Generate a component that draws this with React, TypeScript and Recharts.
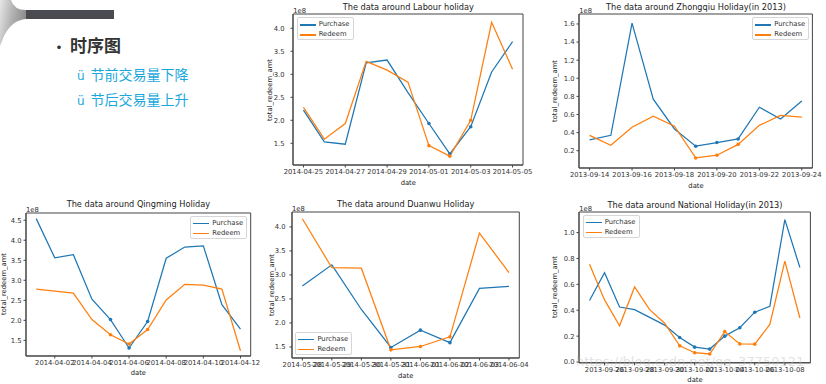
import React from 'react';
import { LineChart, Line, XAxis, YAxis, Legend, ReferenceArea } from 'recharts';

const FONT = '"DejaVu Sans", Verdana, sans-serif';
const CJK = '"Noto Sans CJK SC", sans-serif';
const BLUE = '#1f77b4';
const ORANGE = '#ff7f0e';

// ---- Labour holiday (2014) ----
const labourDates = ['2014-04-25', '2014-04-26', '2014-04-27', '2014-04-28', '2014-04-29', '2014-04-30', '2014-05-01', '2014-05-02', '2014-05-03', '2014-05-04', '2014-05-05'];
const labourPurchase = [2.22, 1.53, 1.48, 3.25, 3.31, 2.6, 1.93, 1.27, 1.86, 3.05, 3.71];
const labourRedeem = [2.28, 1.59, 1.93, 3.28, 3.09, 2.83, 1.45, 1.22, 2.0, 4.13, 3.11];
const labourMarks = [6, 7, 8];
const labourYTicks = [1.5, 2.0, 2.5, 3.0, 3.5, 4.0];
const labourXTicks = [0, 2, 4, 6, 8, 10];

// ---- Zhongqiu holiday (2013) ----
const zqDates = ['2013-09-14', '2013-09-15', '2013-09-16', '2013-09-17', '2013-09-18', '2013-09-19', '2013-09-20', '2013-09-21', '2013-09-22', '2013-09-23', '2013-09-24'];
const zqPurchase = [0.32, 0.37, 1.61, 0.77, 0.44, 0.25, 0.29, 0.33, 0.68, 0.55, 0.75];
const zqRedeem = [0.37, 0.26, 0.46, 0.58, 0.47, 0.12, 0.15, 0.27, 0.48, 0.59, 0.57];
const zqMarks = [5, 6, 7];
const zqYTicks = [0.2, 0.4, 0.6, 0.8, 1.0, 1.2, 1.4, 1.6];
const zqXTicks = [0, 2, 4, 6, 8, 10];

// ---- Qingming holiday (2014) ----
const qmDates = ['2014-04-01', '2014-04-02', '2014-04-03', '2014-04-04', '2014-04-05', '2014-04-06', '2014-04-07', '2014-04-08', '2014-04-09', '2014-04-10', '2014-04-11', '2014-04-12'];
const qmPurchase = [4.54, 3.56, 3.64, 2.53, 2.02, 1.31, 1.97, 3.55, 3.83, 3.86, 2.39, 1.78];
const qmRedeem = [2.78, 2.73, 2.68, 2.02, 1.64, 1.41, 1.77, 2.51, 2.9, 2.88, 2.78, 1.24];
const qmMarks = [4, 5, 6];
const qmYTicks = [1.5, 2.0, 2.5, 3.0, 3.5, 4.0, 4.5];
const qmXTicks = [1, 3, 5, 7, 9, 11];

// ---- Duanwu holiday (2014) ----
const dwDates = ['2014-05-28', '2014-05-29', '2014-05-30', '2014-05-31', '2014-06-01', '2014-06-02', '2014-06-03', '2014-06-04'];
const dwPurchase = [2.77, 3.21, 2.28, 1.49, 1.85, 1.59, 2.72, 2.76];
const dwRedeem = [4.17, 3.15, 3.14, 1.44, 1.51, 1.71, 3.87, 3.05];
const dwMarks = [3, 4, 5];
const dwYTicks = [1.5, 2.0, 2.5, 3.0, 3.5, 4.0];
const dwXTicks = [0, 1, 2, 3, 4, 5, 6, 7];

// ---- National holiday (2013) ----
const natDates = ['2013-09-25', '2013-09-26', '2013-09-27', '2013-09-28', '2013-09-29', '2013-09-30', '2013-10-01', '2013-10-02', '2013-10-03', '2013-10-04', '2013-10-05', '2013-10-06', '2013-10-07', '2013-10-08', '2013-10-09'];
const natPurchase = [0.475, 0.69, 0.425, 0.405, 0.345, 0.285, 0.19, 0.115, 0.1, 0.2, 0.265, 0.385, 0.43, 1.1, 0.73];
const natRedeem = [0.755, 0.48, 0.28, 0.58, 0.405, 0.3, 0.125, 0.072, 0.062, 0.235, 0.14, 0.138, 0.29, 0.78, 0.34];
const natMarks = [6, 7, 8, 9, 10, 11];
const natYTicks = [0.0, 0.2, 0.4, 0.6, 0.8, 1.0];
const natXTicks = [1, 3, 5, 7, 9, 11, 13];

const YW = 40;
const TOP = 20;
const XH = 30;
const MR = 30;
const LEG_W = 57;
const LEG_H = 23;
const LEG_PAD = 3.4;

type PanelProps = {
  title: string;
  dates: string[];
  purchase: number[];
  redeem: number[];
  marks: number[];
  yTicks: number[];
  xTicks: number[];
  L: number; T: number; R: number; B: number;
  yDomain: [number, number];
  xPad: number;
  legendPos: 'ul' | 'ur' | 'll';
  titleY: number;
  yTickGap: number;
  yLabelX: number;
};

const makeDot = (marks: number[], color: string) => (props: any) => {
  const { cx, cy, index } = props;
  if (!marks.includes(index) || cx == null || cy == null) return <g key={`n${index}`} />;
  return <circle key={`d${index}`} cx={cx} cy={cy} r={1.8} fill={color} stroke="none" />;
};

const LegendContent = (props: any) => {
  const payload = props.payload || [];
  return (
    <div
      style={{
        width: LEG_W,
        height: LEG_H,
        boxSizing: 'border-box',
        border: '1px solid #d6d6d6',
        borderRadius: 2,
        background: 'rgba(255,255,255,0.85)',
        position: 'relative',
        fontFamily: FONT,
        fontSize: 6.8,
        color: '#333',
      }}
    >
      {payload.map((p: any, i: number) => (
        <div key={i} style={{ position: 'absolute', left: 0, top: 2 + i * 10, height: 9, width: LEG_W, lineHeight: '9px' }}>
          <div style={{ position: 'absolute', left: 2, top: 4, width: 16, height: 1.3, background: p.color }} />
          <span style={{ position: 'absolute', left: 21, top: 0, whiteSpace: 'nowrap' }}>{p.value}</span>
        </div>
      ))}
    </div>
  );
};

const Panel = (p: PanelProps) => {
  const rows = p.dates.map((d, i) => ({ i, date: d, purchase: p.purchase[i], redeem: p.redeem[i] }));
  const pw = p.R - p.L;
  const ph = p.B - p.T;
  const n = p.dates.length;
  const xDomain: [number, number] = [-p.xPad, n - 1 + p.xPad];
  const tickStyle = { fontSize: 6.8, fill: '#333', fontFamily: FONT };
  let legLeft = YW + LEG_PAD;
  let legTop = TOP + LEG_PAD;
  if (p.legendPos === 'ur') legLeft = YW + pw - LEG_PAD - LEG_W;
  if (p.legendPos === 'll') legTop = TOP + ph - LEG_PAD - LEG_H;
  const textBase: React.CSSProperties = { position: 'absolute', fontFamily: FONT, color: '#222', lineHeight: 1, whiteSpace: 'nowrap' };
  return (
    <>
      <div style={{ ...textBase, left: p.L, width: pw, top: p.titleY - 5, fontSize: 8.2, textAlign: 'center' }}>{p.title}</div>
      <div style={{ ...textBase, left: p.L, top: p.T - 6, fontSize: 6.8, color: '#333' }}>1e8</div>
      <div
        style={{
          ...textBase,
          left: p.yLabelX,
          top: p.T + ph / 2,
          fontSize: 6.8,
          transform: 'translate(-50%, -50%) rotate(-90deg)',
        }}
      >
        total_redeem_amt
      </div>
      <div style={{ ...textBase, left: p.L, width: pw, top: p.B + 14.5, fontSize: 6.8, textAlign: 'center' }}>date</div>
      <div style={{ position: 'absolute', left: p.L - YW, top: p.T - TOP }}>
        <LineChart width={pw + YW + MR} height={ph + TOP + XH} data={rows} margin={{ top: TOP, right: MR, left: 0, bottom: 0 }}>
          <XAxis
            dataKey="i"
            type="number"
            domain={xDomain}
            allowDataOverflow
            ticks={p.xTicks}
            interval={0}
            tickFormatter={(v: number) => p.dates[v] ?? ''}
            height={XH}
            tick={tickStyle}
            tickSize={2.5}
            tickMargin={1.5}
            stroke="#444"
          />
          <YAxis
            type="number"
            domain={p.yDomain}
            allowDataOverflow
            ticks={p.yTicks}
            interval={0}
            tickFormatter={(v: number) => v.toFixed(1)}
            width={YW}
            tick={tickStyle}
            tickSize={2.5}
            tickMargin={p.yTickGap}
            stroke="#444"
          />
          <ReferenceArea
            x1={xDomain[0]}
            x2={xDomain[1]}
            y1={p.yDomain[0]}
            y2={p.yDomain[1]}
            fill="none"
            fillOpacity={0}
            stroke="#444"
            strokeWidth={1}
            ifOverflow="visible"
          />
          <Legend
            layout="vertical"
            align="center"
            verticalAlign="middle"
            wrapperStyle={{ left: legLeft, top: legTop, width: LEG_W, height: LEG_H, margin: 0 }}
            content={<LegendContent />}
          />
          <Line
            name="Purchase"
            dataKey="purchase"
            stroke={BLUE}
            strokeWidth={1.25}
            dot={makeDot(p.marks, BLUE)}
            activeDot={false}
            isAnimationActive={false}
          />
          <Line
            name="Redeem"
            dataKey="redeem"
            stroke={ORANGE}
            strokeWidth={1.25}
            dot={makeDot(p.marks, ORANGE)}
            activeDot={false}
            isAnimationActive={false}
          />
        </LineChart>
      </div>
    </>
  );
};

const Header = () => {
  const cyan = '#1aa8dc';
  return (
    <>
      <svg width={30} height={50} style={{ position: 'absolute', left: 0, top: 0 }}>
        <defs>
          <linearGradient id="silver" x1="0" y1="0" x2="1" y2="0.3">
            <stop offset="0" stopColor="#e6e6e6" />
            <stop offset="0.5" stopColor="#b4b4b4" />
            <stop offset="1" stopColor="#8c8c8c" />
          </linearGradient>
        </defs>
        <path d="M0,0 L11,0 Q14,10 26,10 L26,19 Q12,20 4,36 L0,46 Z" fill="url(#silver)" />
      </svg>
      <div style={{ position: 'absolute', left: 26, top: 10, width: 88, height: 8.5, background: '#4a4b50' }} />
      <div style={{ position: 'absolute', left: 52, top: 34, fontFamily: CJK, fontSize: 17, fontWeight: 700, color: '#333', lineHeight: '22px', whiteSpace: 'nowrap' }}>
        <span style={{ fontSize: 14, marginRight: 4 }}>•</span>时序图
      </div>
      <div style={{ position: 'absolute', left: 77, top: 64, fontFamily: CJK, fontSize: 14, color: cyan, lineHeight: '20px', whiteSpace: 'nowrap' }}>
        <span style={{ fontFamily: FONT, fontSize: 12, marginRight: 6 }}>ü</span>节前交易量下降
      </div>
      <div style={{ position: 'absolute', left: 77, top: 89, fontFamily: CJK, fontSize: 14, color: cyan, lineHeight: '20px', whiteSpace: 'nowrap' }}>
        <span style={{ fontFamily: FONT, fontSize: 12, marginRight: 6 }}>ü</span>节后交易量上升
      </div>
    </>
  );
};

export default function App() {
  return (
    <div style={{ position: 'absolute', left: 0, top: 0, width: 826, height: 384, background: '#fff', overflow: 'hidden' }}>
      <Header />
      <Panel
        title="The data around Labour holiday"
        dates={labourDates}
        purchase={labourPurchase}
        redeem={labourRedeem}
        marks={labourMarks}
        yTicks={labourYTicks}
        xTicks={labourXTicks}
        L={293.3} T={14} R={523.3} B={165}
        yDomain={[1.028, 4.311]}
        xPad={0.5}
        legendPos="ul"
        titleY={8.3}
        yTickGap={6}
        yLabelX={270}
      />
      <Panel
        title="The data around Zhongqiu Holiday(in 2013)"
        dates={zqDates}
        purchase={zqPurchase}
        redeem={zqRedeem}
        marks={zqMarks}
        yTicks={zqYTicks}
        xTicks={zqXTicks}
        L={579.3} T={14} R={812.7} B={168}
        yDomain={[0.009, 1.71]}
        xPad={0.5}
        legendPos="ur"
        titleY={8.3}
        yTickGap={2}
        yLabelX={555}
      />
      <Panel
        title="The data around Qingming Holiday"
        dates={qmDates}
        purchase={qmPurchase}
        redeem={qmRedeem}
        marks={qmMarks}
        yTicks={qmYTicks}
        xTicks={qmXTicks}
        L={26} T={212.7} R={250.7} B={355.7}
        yDomain={[1.11, 4.68]}
        xPad={0.55}
        legendPos="ur"
        titleY={205}
        yTickGap={2}
        yLabelX={4}
      />
      <Panel
        title="The data around Duanwu Holiday"
        dates={dwDates}
        purchase={dwPurchase}
        redeem={dwRedeem}
        marks={dwMarks}
        yTicks={dwYTicks}
        xTicks={dwXTicks}
        L={292} T={212.3} R={519.3} B={358.3}
        yDomain={[1.27, 4.31]}
        xPad={0.35}
        legendPos="ll"
        titleY={205}
        yTickGap={4}
        yLabelX={272}
      />
      <Panel
        title="The data around National Holiday(in 2013)"
        dates={natDates}
        purchase={natPurchase}
        redeem={natRedeem}
        marks={natMarks}
        yTicks={natYTicks}
        xTicks={natXTicks}
        L={579.3} T={211.7} R={810.7} B={362.5}
        yDomain={[-0.006, 1.159]}
        xPad={0.7}
        legendPos="ul"
        titleY={205.7}
        yTickGap={2}
        yLabelX={555}
      />
      <div style={{ position: 'absolute', left: 576, top: 355, fontFamily: FONT, fontSize: 13, color: 'rgba(190,190,190,0.45)', whiteSpace: 'nowrap', lineHeight: 1 }}>
        https://blog.csdn.net/qq_37750121
      </div>
    </div>
  );
}
